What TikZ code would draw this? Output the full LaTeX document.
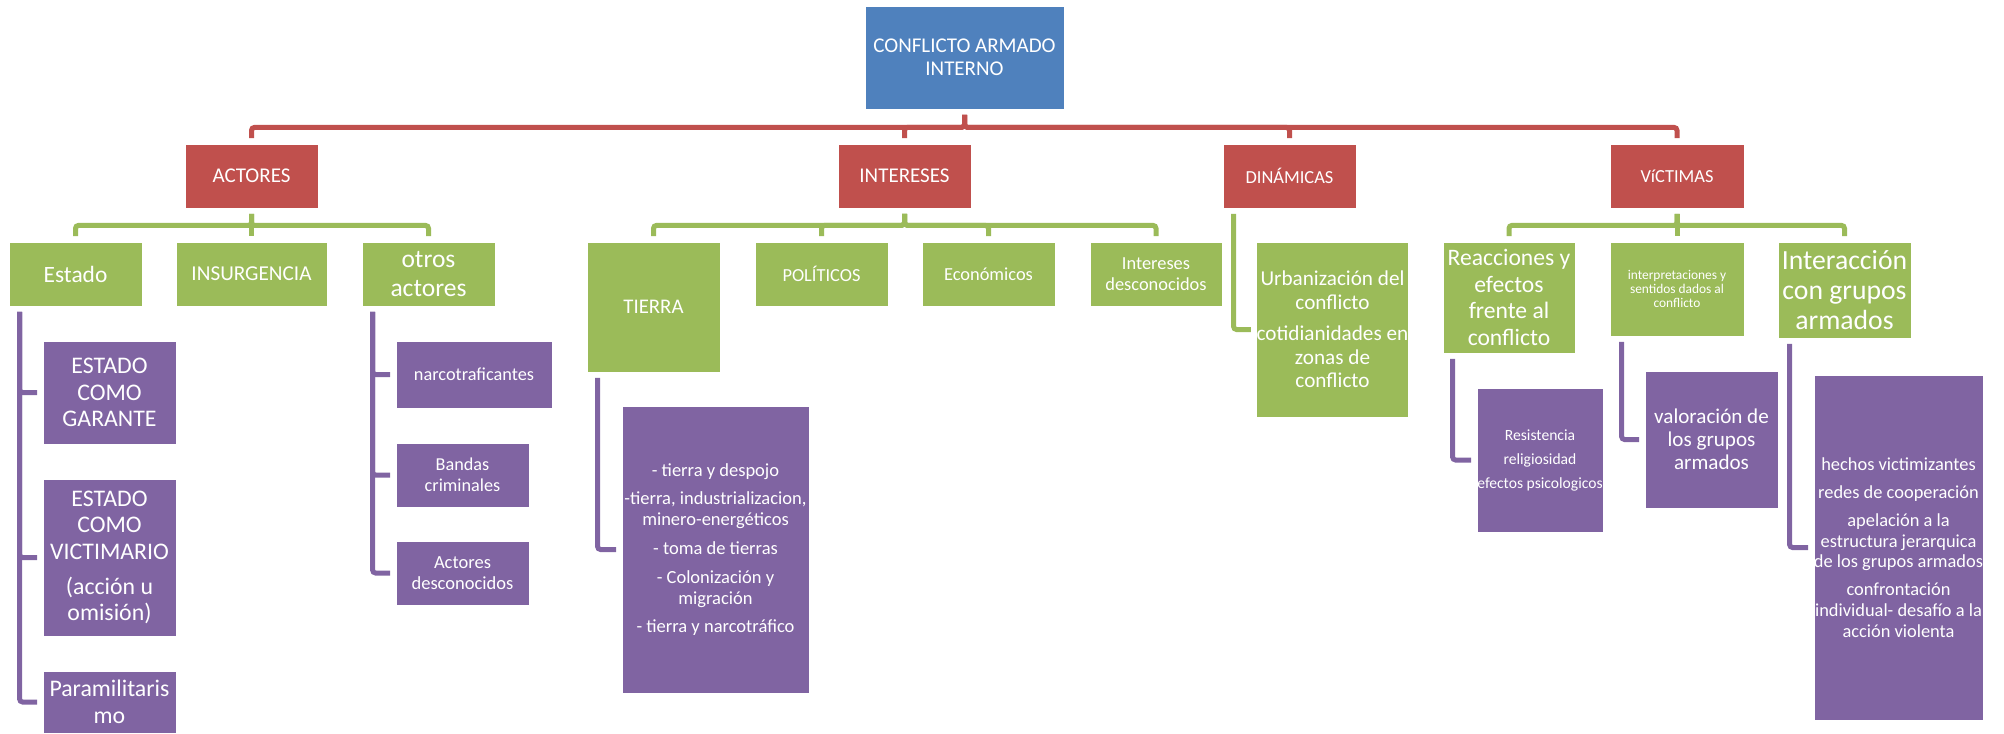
\documentclass[tikz,border=0pt]{standalone}
\usepackage{fontspec}
\setmainfont{Carlito}
\usetikzlibrary{calc}
\definecolor{cblue}{HTML}{4F81BD}
\definecolor{cred}{HTML}{C0504D}
\definecolor{cgreen}{HTML}{9BBB59}
\definecolor{cpurp}{HTML}{8064A2}
\newcommand\fz[2]{\fontsize{#1}{#2}\selectfont}
\newcommand\bx[7]{\node[#2, minimum width={(#5-#3)*0.5pt}, minimum height={(#6-#4)*0.5pt}] (#1) at ({(#3+#5)/2},{(#4+#6)/2}) {#7};}
\begin{document}
\begin{tikzpicture}[x=0.5pt,y=-0.5pt,
  boxbase/.style={inner sep=0pt, align=center, text=white, draw=white, line width=0.4pt},
  bblue/.style={boxbase, fill=cblue},
  bred/.style={boxbase, fill=cred},
  bgreen/.style={boxbase, fill=cgreen},
  bpurp/.style={boxbase, fill=cpurp},
  conn/.style={line width=2.5pt, rounded corners=1.5pt, shorten <=2.75pt, shorten >=2.75pt},
  redc/.style={conn, draw=cred},
  greenc/.style={conn, draw=cgreen},
  purpc/.style={conn, draw=cpurp}]
\useasboundingbox (0,0) rectangle (2004,734);
% root
\bx{root}{bblue, font=\fz{10.5}{11.6}}{865}{6}{1064}{109}{CONFLICTO ARMADO\\INTERNO}
% level 1
\bx{actores}{bred, font=\fz{10.5}{11.6}}{185}{144}{318}{208}{ACTORES}
\bx{intereses}{bred, font=\fz{10.5}{11.6}}{838}{144}{971}{208}{INTERESES}
\bx{dinamicas}{bred, font=\fz{9.2}{10.2}}{1223}{144}{1356}{208}{DINÁMICAS}
\bx{victimas}{bred, font=\fz{9.2}{10.2}}{1610}{144}{1744}{208}{VíCTIMAS}
% level 2
\bx{estado}{bgreen, font=\fz{11.7}{13}}{9}{242}{142}{306}{Estado}
\bx{insurgencia}{bgreen, font=\fz{10.6}{11.7}}{176}{242}{327}{306}{INSURGENCIA}
\bx{otros}{bgreen, font=\fz{12.75}{14.5}}{362}{242}{495}{306}{otros\\actores}
\bx{tierra}{bgreen, font=\fz{10.4}{11.5}}{587}{242}{720}{372}{TIERRA}
\bx{politicos}{bgreen, font=\fz{9.2}{10.8}}{755}{242}{888}{306}{POLÍTICOS}
\bx{economicos}{bgreen, font=\fz{9.2}{10.8}}{922}{242}{1055}{306}{Económicos}
\bx{intdesc}{bgreen, font=\fz{9.2}{10.8}}{1090}{242}{1222}{306}{Intereses\\desconocidos}
\bx{urban}{bgreen, font=\fz{10.6}{11.65}}{1257}{242}{1408}{417}{Urbanización del\\conflicto\\[4.2pt]cotidianidades en\\zonas de\\conflicto}
\bx{reacciones}{bgreen, font=\fz{11.8}{13.3}}{1443}{242}{1575}{353}{Reacciones y\\efectos\\frente al\\conflicto}
\bx{interp}{bgreen, font=\fz{6.7}{7.2}}{1610}{242}{1744}{336}{interpretaciones y\\sentidos dados al\\conflicto}
\bx{interac}{bgreen, font=\fz{13.85}{15}}{1778}{242}{1911}{338}{Interacción\\con grupos\\armados}
% level 3
\bx{garante}{bpurp, font=\fz{11.9}{13.3}}{43}{341}{176}{444}{ESTADO\\COMO\\GARANTE}
\bx{victimario}{bpurp, font=\fz{11.9}{13.3}}{43}{479}{176}{636}{ESTADO\\COMO\\VICTIMARIO\\[4pt](acción u\\omisión)}
\bx{paramil}{bpurp, font=\fz{11.9}{13.3}}{43}{671}{176}{733}{Paramilitaris\\mo}
\bx{narco}{bpurp, font=\fz{9.15}{10.3}}{396}{341}{552}{408}{narcotraficantes}
\bx{bandas}{bpurp, font=\fz{9.1}{10.35}}{396}{443}{529}{507}{Bandas\\criminales}
\bx{actdesc}{bpurp, font=\fz{9.25}{10.35}}{396}{541}{529}{605}{Actores\\desconocidos}
\bx{tierralist}{bpurp, font=\fz{9.25}{10.5}}{622}{406}{809}{693}{- tierra y despojo\\[3.8pt]-tierra, industrializacion,\\minero-energéticos\\[3.8pt]- toma de tierras\\[3.8pt]- Colonización y\\migración\\[3.8pt]- tierra y narcotráfico}
\bx{resist}{bpurp, font=\fz{7.8}{8.6}}{1477}{388}{1603}{532}{Resistencia\\[3.4pt]religiosidad\\[3.4pt]efectos psicologicos}
\bx{valor}{bpurp, font=\fz{10.55}{11.6}}{1645}{371}{1778}{508}{valoración de\\los grupos\\armados}
\bx{hechos}{bpurp, font=\fz{9.2}{10.35}}{1814}{375}{1983}{720}{hechos victimizantes\\[3.65pt]redes de cooperación\\[3.65pt]apelación a la\\estructura jerarquica\\de los grupos armados\\[3.65pt]confrontación\\individual- desafío a la\\acción violenta}
% connectors
\foreach \c in {actores,intereses,dinamicas,victimas}
  \draw[redc] (root.south) -- ++(0,18) -| (\c.north);
\foreach \c in {estado,insurgencia,otros}
  \draw[greenc] (actores.south) -- ++(0,17) -| (\c.north);
\foreach \c in {tierra,politicos,economicos,intdesc}
  \draw[greenc] (intereses.south) -- ++(0,17) -| (\c.north);
\foreach \c in {reacciones,interp,interac}
  \draw[greenc] (victimas.south) -- ++(0,17) -| (\c.north);
\draw[greenc] ($(dinamicas.south west)+(11,0)$) |- (urban.west);
\foreach \c in {garante,victimario,paramil}
  \draw[purpc] ($(estado.south west)+(11,0)$) |- (\c.west);
\foreach \c in {narco,bandas,actdesc}
  \draw[purpc] ($(otros.south west)+(11,0)$) |- (\c.west);
\draw[purpc] ($(tierra.south west)+(11,0)$) |- (tierralist.west);
\draw[purpc] ($(reacciones.south west)+(10,0)$) |- (resist.west);
\draw[purpc] ($(interp.south west)+(12,0)$) |- (valor.west);
\draw[purpc] ($(interac.south west)+(12,0)$) |- (hechos.west);
\end{tikzpicture}
\end{document}
